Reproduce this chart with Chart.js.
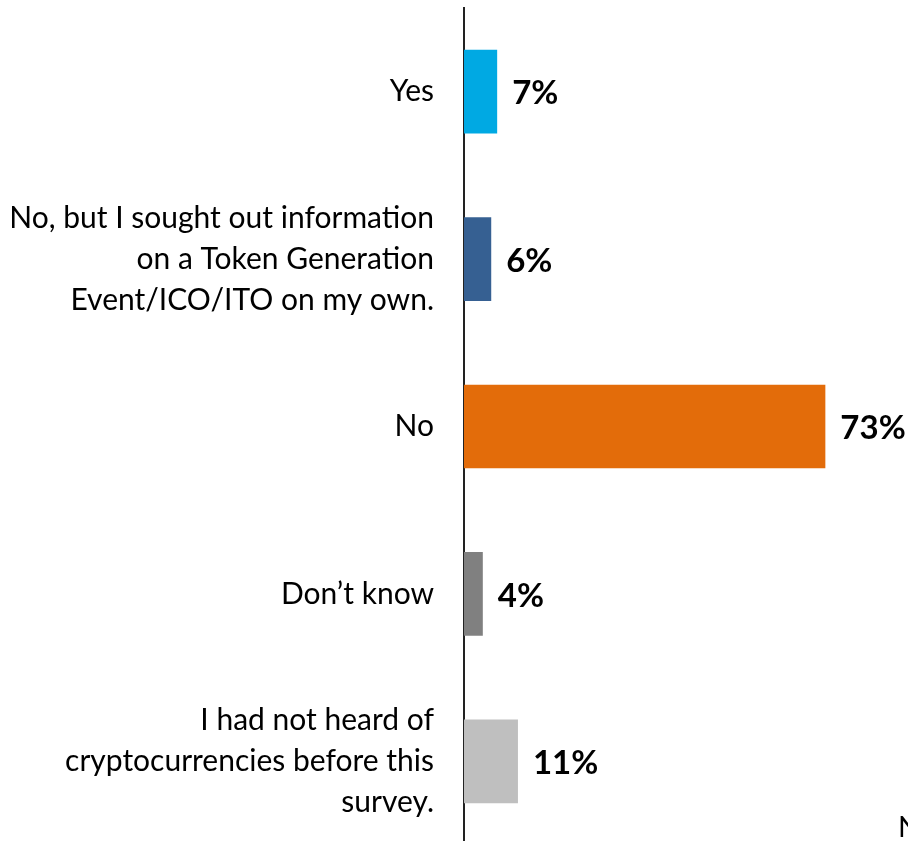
<!DOCTYPE html>
<html>
<head>
<meta charset="utf-8">
<script src="https://cdn.jsdelivr.net/npm/chart.js@4"></script>
<style>
  html, body { margin: 0; padding: 0; background: #fff; overflow: hidden; }
  #wrap { position: relative; width: 908px; height: 845px; }
  #note { position: absolute; left: 898px; top: 808px; font: 29px Lato, sans-serif; color: #000; white-space: nowrap; }
</style>
</head>
<body>
<div id="wrap">
  <canvas id="chart"></canvas>
  <div id="note">N</div>
</div>
<script>
const categories = [
  "Yes",
  ["No, but I sought out information", "on a Token Generation", "Event/ICO/ITO on my own."],
  "No",
  "Don\u2019t know",
  ["I had not heard of", "cryptocurrencies before this", "survey."]
];
const values = [6.7, 5.5, 73, 3.8, 10.9];
const valueLabels = ["7%", "6%", "73%", "4%", "11%"];
const barColors = ["#00A9E3", "#366092", "#E36C0A", "#808080", "#BFBFBF"];

const valueLabelPlugin = {
  id: "valueLabels",
  afterDatasetsDraw(chart) {
    const ctx = chart.ctx;
    const meta = chart.getDatasetMeta(0);
    ctx.save();
    ctx.font = "bold 33px Lato, sans-serif";
    ctx.fillStyle = "#000";
    ctx.textAlign = "left";
    ctx.textBaseline = "middle";
    meta.data.forEach((bar, i) => {
      ctx.fillText(valueLabels[i], bar.x + 15, bar.y + 2);
    });
    ctx.restore();
  }
};

new Chart(document.querySelector("#chart"), {
  type: "bar",
  data: {
    labels: categories,
    datasets: [{
      data: values,
      backgroundColor: barColors,
      borderWidth: 0,
      categoryPercentage: 1,
      barPercentage: 0.5
    }]
  },
  options: {
    indexAxis: "y",
    responsive: true,
    maintainAspectRatio: false,
    animation: false,
    layout: { padding: { top: 8, right: 48, bottom: 0, left: 0 } },
    plugins: {
      legend: { display: false },
      tooltip: { enabled: false }
    },
    scales: {
      x: {
        display: false,
        min: 0,
        max: 80
      },
      y: {
        grid: { display: false, drawTicks: false },
        border: { display: true, color: "#222", width: 2 },
        ticks: {
          color: "#000",
          padding: 30,
          font: { family: "Lato, sans-serif", size: 30, lineHeight: "41px" }
        },
        afterFit(scale) {
          scale.width = 464;
          // keep multi-line labels from shrinking the plot vertically
          scale.paddingTop = 0;
          scale.paddingBottom = 0;
        }
      }
    }
  },
  plugins: [valueLabelPlugin]
});
</script>
</body>
</html>
